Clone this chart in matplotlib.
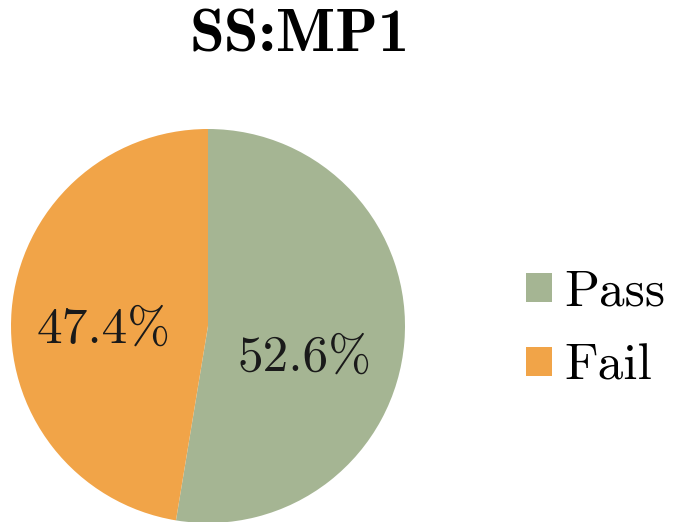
import matplotlib
matplotlib.use("Agg")
import matplotlib.pyplot as plt
from matplotlib.patches import Patch

title = "SS:MP1"
categories = ["Pass", "Fail"]
shares = [52.6, 47.4]
colors = ["#A5B593", "#F1A448"]

W, H = 673, 522
fig = plt.figure(figsize=(W / 100, H / 100), dpi=100)

# pie axes: centre (208, 326) px, radius 197 px
cx, cy, r = 208, 326, 197
ax = fig.add_axes([(cx - r) / W, (H - cy - r) / H, 2 * r / W, 2 * r / H])
wedges, _ = ax.pie(shares, colors=colors, startangle=90, counterclock=False,
                   radius=1.0, wedgeprops=dict(linewidth=0))
ax.set_xlim(-1, 1)
ax.set_ylim(-1, 1)
ax.set_aspect("equal")
ax.axis("off")

# percentage labels
label_pos = [(0.492, -0.162), (-0.532, -0.02)]
for val, (x, y) in zip(shares, label_pos):
    ax.text(x, y, "%.1f%%" % val, ha="center", va="center",
            fontsize=37, family="cmr10", color="#1a1a1a")

fig.text(300 / W, 1 - 36 / H, title, ha="center", va="center",
         fontsize=45, family="cmb10")

handles = [Patch(facecolor=c, edgecolor="none") for c in colors]
fig.legend(handles, categories, loc="center left",
           bbox_to_anchor=(526 / W, 1 - 330 / H), frameon=False,
           prop=dict(family="cmr10", size=37),
           handlelength=0.5, handleheight=0.5, borderpad=0,
           handletextpad=0.25, labelspacing=0.55, borderaxespad=0)

fig.savefig("out.png", dpi=100)
